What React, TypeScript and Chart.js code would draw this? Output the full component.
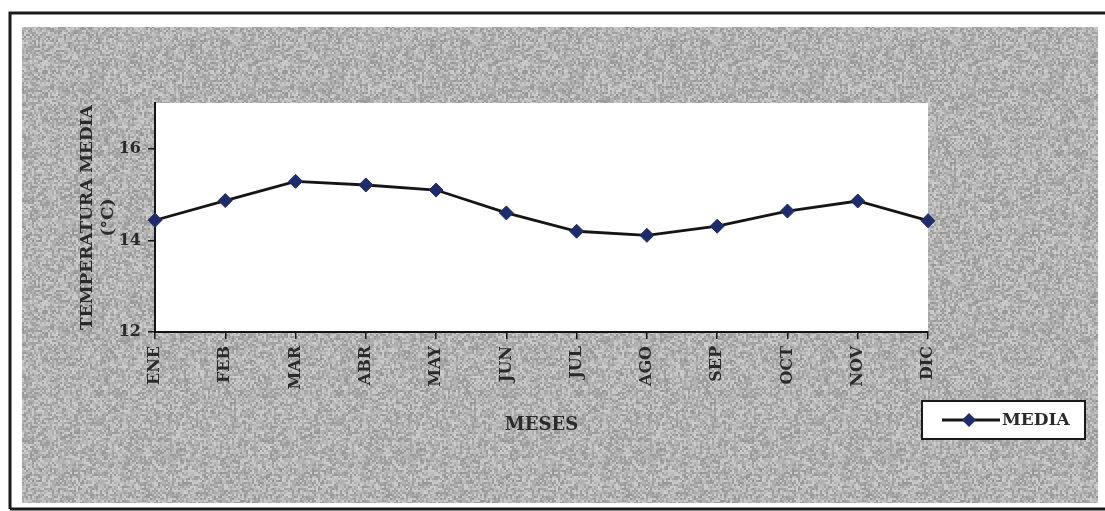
import { useEffect, useRef } from "react";
import { Chart, registerables } from "chart.js";

Chart.register(...registerables);

// Monthly mean temperature (°C)
const months = ["ENE", "FEB", "MAR", "ABR", "MAY", "JUN", "JUL", "AGO", "SEP", "OCT", "NOV", "DIC"];
const mediaTemps = [14.44, 14.87, 15.29, 15.21, 15.1, 14.6, 14.2, 14.11, 14.31, 14.64, 14.86, 14.43];
const seriesName = "MEDIA";
const yTitleLines = ["TEMPERATURA MEDIA", "(°C)"];
const xTitle = "MESES";
const yMin = 12;
const yMax = 17;
const yStep = 2;

const W = 1105;
const H = 511;
const FONT = "'DejaVu Serif', 'Liberation Serif', serif";
const INK = "#2a2a2a";
const LINE = "#151515";
const MARKER = "#1f2c68";

// small deterministic grain tile for the grey panel
function hash(i: number) {
  let x = Math.imul(i ^ 0x9e3779b9, 0x85ebca6b);
  x ^= x >>> 13;
  x = Math.imul(x, 0xc2b2ae35);
  x ^= x >>> 16;
  return (x >>> 0) / 4294967296;
}

function makeGrain(ctx: CanvasRenderingContext2D) {
  const size = 240;
  const cell = 2;
  const c = document.createElement("canvas");
  c.width = size;
  c.height = size;
  const g = c.getContext("2d")!;
  const n = size / cell;
  for (let j = 0; j < n; j++) {
    for (let i = 0; i < n; i++) {
      const v = Math.round(178 + (hash(j * n + i + 31) - 0.5) * 60);
      g.fillStyle = `rgb(${v},${v},${v})`;
      g.fillRect(i * cell, j * cell, cell, cell);
    }
  }
  return ctx.createPattern(c, "repeat");
}

const framePlugin = {
  id: "frame",
  beforeDraw(chart: any) {
    const { ctx, chartArea } = chart;
    ctx.save();
    ctx.fillStyle = "#ffffff";
    ctx.fillRect(0, 0, W, H);
    ctx.fillStyle = makeGrain(ctx) || "#b2b2b2";
    ctx.fillRect(22, 27, 1076, 476);
    ctx.fillStyle = "#ffffff";
    ctx.fillRect(chartArea.left, chartArea.top, chartArea.right - chartArea.left, chartArea.bottom - chartArea.top);
    ctx.strokeStyle = "#1a1a1a";
    ctx.lineWidth = 3;
    ctx.beginPath();
    ctx.moveTo(10, 509);
    ctx.lineTo(10, 13);
    ctx.lineTo(1105, 13);
    ctx.moveTo(10, 509);
    ctx.lineTo(1105, 509);
    ctx.stroke();
    ctx.restore();
  },
};

const legendPlugin = {
  id: "boxLegend",
  afterDraw(chart: any) {
    const { ctx } = chart;
    const ds = chart.data.datasets[0];
    const x = 922;
    const y = 401;
    const w = 163;
    const h = 38;
    ctx.save();
    ctx.fillStyle = "#ffffff";
    ctx.fillRect(x, y, w, h);
    ctx.strokeStyle = "#1a1a1a";
    ctx.lineWidth = 2;
    ctx.strokeRect(x, y, w, h);
    const cy = y + h / 2;
    ctx.strokeStyle = ds.borderColor;
    ctx.lineWidth = ds.borderWidth;
    ctx.beginPath();
    ctx.moveTo(x + 20, cy);
    ctx.lineTo(x + 78, cy);
    ctx.stroke();
    const r = ds.pointRadius;
    ctx.fillStyle = ds.pointBackgroundColor;
    ctx.beginPath();
    ctx.moveTo(x + 47, cy - r);
    ctx.lineTo(x + 47 + r, cy);
    ctx.lineTo(x + 47, cy + r);
    ctx.lineTo(x + 47 - r, cy);
    ctx.closePath();
    ctx.fill();
    ctx.fillStyle = INK;
    ctx.font = `bold 17px ${FONT}`;
    ctx.textBaseline = "middle";
    ctx.textAlign = "left";
    ctx.fillText(ds.label, x + 80, cy + 1);
    ctx.restore();
  },
};

export default function App() {
  const ref = useRef<HTMLCanvasElement | null>(null);

  useEffect(() => {
    document.body.style.margin = "0";
    const canvas = ref.current;
    if (!canvas) return;
    const chart = new Chart(canvas, {
      type: "line",
      data: {
        labels: months,
        datasets: [
          {
            label: seriesName,
            data: mediaTemps,
            borderColor: LINE,
            borderWidth: 2.8,
            pointStyle: "rectRot",
            pointRadius: 7,
            pointBackgroundColor: MARKER,
            pointBorderColor: MARKER,
            pointBorderWidth: 1,
            tension: 0,
          },
        ],
      },
      options: {
        responsive: false,
        animation: false,
        devicePixelRatio: 1,
        layout: { padding: { top: 103, right: 177, bottom: 0, left: 0 } },
        plugins: {
          legend: { display: false },
          tooltip: { enabled: false },
        },
        scales: {
          x: {
            type: "category",
            offset: false,
            afterFit: (s: any) => {
              s.height = H - 332;
            },
            border: { display: true, color: LINE, width: 2 },
            grid: { display: true, drawOnChartArea: false, drawTicks: true, tickLength: 7, color: LINE, lineWidth: 1.5 },
            ticks: {
              color: INK,
              font: { family: FONT, size: 16, weight: "bold" },
              minRotation: 90,
              maxRotation: 90,
              padding: 7,
              autoSkip: false,
            },
            title: {
              display: true,
              text: xTitle,
              color: INK,
              font: { family: FONT, size: 18, weight: "bold", lineHeight: 1 },
              padding: { top: 0, bottom: 77 },
            },
          },
          y: {
            min: yMin,
            max: yMax,
            afterFit: (s: any) => {
              s.width = 155;
            },
            border: { display: true, color: LINE, width: 2 },
            grid: { display: true, drawOnChartArea: false, drawTicks: true, tickLength: 7, color: LINE, lineWidth: 1.5 },
            ticks: {
              stepSize: yStep,
              includeBounds: false,
              color: INK,
              font: { family: FONT, size: 16, weight: "bold" },
              padding: 7,
            },
            title: {
              display: true,
              text: yTitleLines,
              color: INK,
              font: { family: FONT, size: 17, weight: "bold", lineHeight: 1.18 },
              padding: { top: 78, bottom: 0 },
            },
          },
        },
      },
      plugins: [framePlugin, legendPlugin],
    });
    return () => chart.destroy();
  }, []);

  return (
    <div style={{ position: "absolute", left: 0, top: 0, width: W, height: H }}>
      <canvas ref={ref} width={W} height={H} style={{ display: "block", width: W, height: H }} />
    </div>
  );
}
